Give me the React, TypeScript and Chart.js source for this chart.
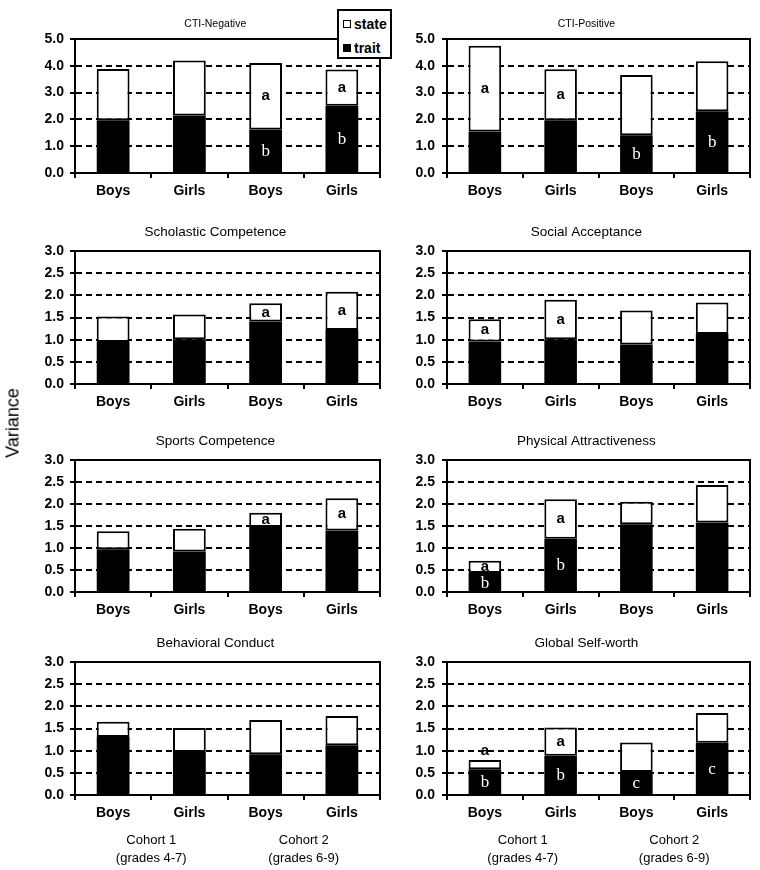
import React, { useEffect, useRef } from 'react';
import { Chart, registerables } from 'chart.js';

Chart.register(...registerables);

// ---------- data ----------
const categories = ['Boys', 'Girls', 'Boys', 'Girls'];
const seriesNames = ['trait', 'state'];
const cohortLine1 = ['Cohort 1', 'Cohort 2'];
const cohortLine2 = ['(grades 4-7)', '(grades 6-9)'];
const yAxisTitle = 'Variance';

const panelTitles = [
  'CTI-Negative',
  'CTI-Positive',
  'Scholastic Competence',
  'Social Acceptance',
  'Sports Competence',
  'Physical Attractiveness',
  'Behavioral Conduct',
  'Global Self-worth',
];

// trait (bottom, black) and state (top, white) variance components
const ctiNegTrait = [1.97, 2.15, 1.62, 2.51];
const ctiNegState = [1.91, 2.05, 2.48, 1.35];
const ctiPosTrait = [1.55, 1.97, 1.41, 2.3];
const ctiPosState = [3.2, 1.9, 2.25, 1.87];
const scholasticTrait = [0.95, 1.01, 1.41, 1.22];
const scholasticState = [0.57, 0.56, 0.41, 0.86];
const socialTrait = [0.96, 1.01, 0.89, 1.13];
const socialState = [0.5, 0.89, 0.77, 0.71];
const sportsTrait = [0.97, 0.92, 1.48, 1.4];
const sportsState = [0.41, 0.52, 0.32, 0.73];
const physicalTrait = [0.43, 1.21, 1.54, 1.58];
const physicalState = [0.28, 0.9, 0.51, 0.85];
const behavioralTrait = [1.31, 0.97, 0.92, 1.12];
const behavioralState = [0.34, 0.54, 0.77, 0.66];
const globalTrait = [0.58, 0.885, 0.52, 1.18];
const globalState = [0.21, 0.635, 0.665, 0.67];

// significance letters
const ctiNegStateLetters = ['', '', 'a', 'a'];
const ctiNegTraitLetters = ['', '', 'b', 'b'];
const ctiPosStateLetters = ['a', 'a', '', ''];
const ctiPosTraitLetters = ['', '', 'b', 'b'];
const scholasticStateLetters = ['', '', 'a', 'a'];
const scholasticTraitLetters = ['', '', '', ''];
const socialStateLetters = ['a', 'a', '', ''];
const socialTraitLetters = ['', '', '', ''];
const sportsStateLetters = ['', '', 'a', 'a'];
const sportsTraitLetters = ['', '', '', ''];
const physicalStateLetters = ['a', 'a', '', ''];
const physicalTraitLetters = ['b', 'b', '', ''];
const behavioralStateLetters = ['', '', '', ''];
const behavioralTraitLetters = ['', '', '', ''];
const globalStateLetters = ['a', 'a', '', ''];
const globalTraitLetters = ['b', 'b', 'c', 'c'];

// y axis ranges
const ctiYMax = 5;
const ctiYStep = 1;
const harterYMax = 3;
const harterYStep = 0.5;

// ---------- layout ----------
const SANS = '"Liberation Sans", Arial, Helvetica, sans-serif';
const SERIF = '"Liberation Serif", "Times New Roman", serif';
const ROW_TOP = [39, 251, 460, 662];
const ROW_BOTTOM = [173, 384, 592, 795];
const COL_LEFT = [0, 382];
const COL_WIDTH = [382, 370];
const COL_AXIS_W = [75, 65];
const COL_TICK_PAD = [6, 7];
const PAD_TOP = 39;
const PAD_RIGHT = 2;

type Panel = {
  title: string;
  trait: number[];
  state: number[];
  traitLetters: string[];
  stateLetters: string[];
  yMax: number;
  yStep: number;
  row: number;
  col: number;
  small: boolean;
};

const panels: Panel[] = [
  [ctiNegTrait, ctiNegState, ctiNegTraitLetters, ctiNegStateLetters],
  [ctiPosTrait, ctiPosState, ctiPosTraitLetters, ctiPosStateLetters],
  [scholasticTrait, scholasticState, scholasticTraitLetters, scholasticStateLetters],
  [socialTrait, socialState, socialTraitLetters, socialStateLetters],
  [sportsTrait, sportsState, sportsTraitLetters, sportsStateLetters],
  [physicalTrait, physicalState, physicalTraitLetters, physicalStateLetters],
  [behavioralTrait, behavioralState, behavioralTraitLetters, behavioralStateLetters],
  [globalTrait, globalState, globalTraitLetters, globalStateLetters],
].map((d, i) => ({
  title: panelTitles[i],
  trait: d[0] as number[],
  state: d[1] as number[],
  traitLetters: d[2] as string[],
  stateLetters: d[3] as string[],
  yMax: i < 2 ? ctiYMax : harterYMax,
  yStep: i < 2 ? ctiYStep : harterYStep,
  row: Math.floor(i / 2),
  col: i % 2,
  small: i < 2,
}));

function geometry(p: Panel) {
  const bottomRow = p.row === 3;
  const xAxisH = bottomRow ? 80 : 30;
  const plotH = ROW_BOTTOM[p.row] - ROW_TOP[p.row];
  return {
    left: COL_LEFT[p.col],
    top: ROW_TOP[p.row] - PAD_TOP,
    width: COL_WIDTH[p.col],
    height: PAD_TOP + plotH + xAxisH,
    xAxisH,
    bottomRow,
  };
}

function PanelChart({ p }: { p: Panel }) {
  const ref = useRef<HTMLCanvasElement | null>(null);
  const g = geometry(p);

  useEffect(() => {
    if (!ref.current) return;
    const decor = {
      id: 'panelDecor' + p.row + p.col,
      afterDatasetsDraw(chart: any) {
        const ctx = chart.ctx;
        ctx.save();
        ctx.textAlign = 'center';
        ctx.textBaseline = 'middle';
        const traitMeta = chart.getDatasetMeta(0);
        const stateMeta = chart.getDatasetMeta(1);
        traitMeta.data.forEach((bar: any, i: number) => {
          const letter = p.traitLetters[i];
          if (!letter) return;
          const { x, y, base } = bar.getProps(['x', 'y', 'base'], true);
          ctx.font = '17px ' + SERIF;
          ctx.fillStyle = '#fff';
          ctx.fillText(letter, x, (y + base) / 2 + 1);
        });
        stateMeta.data.forEach((bar: any, i: number) => {
          const letter = p.stateLetters[i];
          if (!letter) return;
          const { x, y, base } = bar.getProps(['x', 'y', 'base'], true);
          const h = Math.abs(base - y);
          const cy = h < 11 ? y - 9 : (y + base) / 2;
          ctx.font = 'bold 15px ' + SANS;
          ctx.fillStyle = '#000';
          ctx.fillText(letter, x, cy);
        });
        ctx.restore();
      },
      afterDraw(chart: any) {
        const ctx = chart.ctx;
        const a = chart.chartArea;
        ctx.save();
        // plot frame (top / right)
        ctx.strokeStyle = '#000';
        ctx.lineWidth = 2;
        ctx.beginPath();
        ctx.moveTo(a.left, a.top);
        ctx.lineTo(a.right, a.top);
        ctx.lineTo(a.right, a.bottom);
        ctx.stroke();
        // title
        ctx.fillStyle = '#000';
        ctx.textAlign = 'center';
        ctx.textBaseline = 'middle';
        ctx.font = (p.small ? '10.5px ' : '13.5px ') + SANS;
        ctx.fillText(p.title, a.left + (a.right - a.left) * 0.46, a.top - (p.small ? 15 : 19));
        // cohort labels
        if (g.bottomRow) {
          const xs = chart.scales.x;
          ctx.font = '13px ' + SANS;
          for (let c = 0; c < 2; c++) {
            const cx = (xs.getPixelForValue(c * 2) + xs.getPixelForValue(c * 2 + 1)) / 2;
            ctx.fillText(cohortLine1[c], cx, a.bottom + 45);
            ctx.fillText(cohortLine2[c], cx, a.bottom + 63);
          }
        }
        ctx.restore();
      },
    };

    const chart = new Chart(ref.current, {
      type: 'bar',
      data: {
        labels: categories,
        datasets: [
          {
            label: seriesNames[0],
            data: p.trait,
            backgroundColor: '#000',
            borderColor: '#000',
            borderWidth: 0,
            barPercentage: 0.43,
            categoryPercentage: 1,
          },
          {
            label: seriesNames[1],
            data: p.state,
            backgroundColor: '#fff',
            borderColor: '#000',
            borderWidth: 2,
            borderSkipped: false,
            barPercentage: 0.43,
            categoryPercentage: 1,
          },
        ],
      },
      options: {
        responsive: false,
        animation: false,
        events: [],
        layout: { padding: { top: PAD_TOP, right: PAD_RIGHT, left: 0, bottom: 0 } },
        plugins: {
          legend: { display: false },
          tooltip: { enabled: false },
          title: { display: false },
        },
        scales: {
          x: {
            stacked: true,
            offset: true,
            grid: {
              offset: true,
              drawOnChartArea: false,
              drawTicks: true,
              tickLength: 5,
              color: '#000',
              tickColor: '#000',
              lineWidth: 2,
              tickWidth: 2,
            },
            border: { display: true, color: '#000', width: 2 },
            ticks: {
              color: '#000',
              padding: 5,
              font: { family: SANS, size: 14, weight: 'bold' },
              maxRotation: 0,
              autoSkip: false,
            },
            afterFit: (s: any) => {
              s.height = g.xAxisH;
            },
          },
          y: {
            stacked: true,
            min: 0,
            max: p.yMax,
            grid: {
              drawTicks: true,
              tickLength: 5,
              lineWidth: 2,
              tickWidth: 2,
              tickColor: '#000',
              tickBorderDash: [1, 0],
              color: (c: any) =>
                c.tick && (c.tick.value === 0 || c.tick.value === p.yMax) ? 'rgba(0,0,0,0)' : '#000',
            },
            border: { display: true, color: '#000', width: 2, dash: [6, 4] },
            ticks: {
              stepSize: p.yStep,
              color: '#000',
              padding: COL_TICK_PAD[p.col],
              font: { family: SANS, size: 14, weight: 'bold' },
              callback: (v: any) => Number(v).toFixed(1),
            },
            afterFit: (s: any) => {
              s.width = COL_AXIS_W[p.col];
            },
          },
        },
      },
      plugins: [decor],
    } as any);
    return () => chart.destroy();
  }, []);

  return (
    <canvas
      ref={ref}
      width={g.width}
      height={g.height}
      style={{ position: 'absolute', left: g.left, top: g.top, width: g.width, height: g.height }}
    />
  );
}

export default function App() {
  return (
    <div
      style={{
        position: 'absolute',
        left: 0,
        top: 0,
        width: 760,
        height: 870,
        background: '#fff',
        overflow: 'hidden',
        fontFamily: SANS,
      }}
    >
      {panels.map((p, i) => (
        <PanelChart key={i} p={p} />
      ))}
      {/* shared y-axis title */}
      <div
        style={{
          position: 'absolute',
          left: 12.5,
          top: 423,
          transform: 'translate(-50%, -50%) rotate(-90deg)',
          fontSize: 18,
          whiteSpace: 'nowrap',
          color: '#000',
        }}
      >
        {yAxisTitle}
      </div>
      {/* legend */}
      <div
        style={{
          position: 'absolute',
          left: 337,
          top: 9,
          width: 55,
          height: 50,
          boxSizing: 'border-box',
          border: '2px solid #000',
          background: '#fff',
          zIndex: 2,
          fontWeight: 'bold',
          fontSize: 14,
          color: '#000',
        }}
      >
        {[seriesNames[1], seriesNames[0]].map((name, i) => (
          <div
            key={name}
            style={{
              position: 'absolute',
              left: 4,
              top: i === 0 ? 5 : 29,
              height: 16,
              display: 'flex',
              alignItems: 'center',
              lineHeight: '16px',
            }}
          >
            <span
              style={{
                display: 'inline-block',
                width: 8,
                height: 8,
                boxSizing: 'border-box',
                border: '1.5px solid #000',
                background: name === 'trait' ? '#000' : '#fff',
                marginRight: 3,
              }}
            />
            <span>{name}</span>
          </div>
        ))}
      </div>
    </div>
  );
}
